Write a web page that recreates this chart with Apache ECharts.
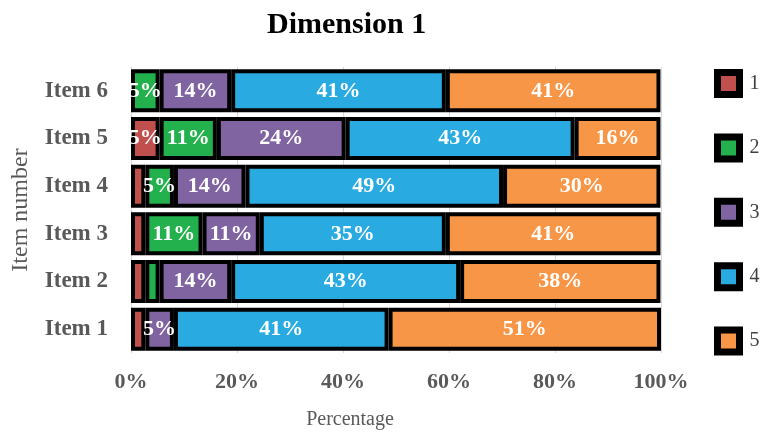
<!DOCTYPE html>
<html>
<head>
<meta charset="utf-8">
<script src="https://cdn.jsdelivr.net/npm/echarts@6/dist/echarts.min.js"></script>
<style>
  html, body { margin: 0; padding: 0; background: #fff; }
  #chart { width: 766px; height: 435px; }
</style>
</head>
<body>
<div id="chart"></div>
<script>
// Share of responses (%) per rating level, for each item of Dimension 1
const categories = ['Item 1', 'Item 2', 'Item 3', 'Item 4', 'Item 5', 'Item 6'];
const level1 = [2.7, 2.7, 2.7, 2.7, 5.4, 0];
const level2 = [0, 2.7, 10.8, 5.4, 10.8, 5.4];
const level3 = [5.4, 13.5, 10.8, 13.5, 24.3, 13.5];
const level4 = [40.5, 43.2, 35.1, 48.6, 43.2, 40.5];
const level5 = [51.4, 37.8, 40.5, 29.7, 16.2, 40.5];
const levelNames = ['1', '2', '3', '4', '5'];
const xTicks = [0, 20, 40, 60, 80, 100];

const colors = ['#c0504d', '#22b14c', '#8064a2', '#29abe2', '#f79646'];
const serif = '"Liberation Serif", "Times New Roman", serif';
const grayText = '#595959';

const levels = [level1, level2, level3, level4, level5];

// empty segments are skipped so they leave no border stub
const series = levels.map((vals, i) => ({
  name: levelNames[i],
  type: 'bar',
  stack: 'total',
  barWidth: 43,
  data: vals.map(v => (v === 0 ? '-' : v)),
  itemStyle: {
    color: colors[i],
    borderColor: '#000',
    borderWidth: 4
  },
  label: {
    show: true,
    position: 'inside',
    color: '#fff',
    fontFamily: serif,
    fontWeight: 'bold',
    fontSize: 22,
    formatter: p => (p.value >= 5 ? Math.round(p.value) + '%' : '')
  },
  emphasis: { disabled: true }
}));

const chart = echarts.init(document.getElementById('chart'), null, { renderer: 'canvas' });
chart.setOption({
  animation: false,
  backgroundColor: '#fff',
  title: {
    text: 'Dimension 1',
    left: 267,
    top: 10,
    padding: 0,
    textStyle: { fontFamily: serif, fontWeight: 'bold', fontSize: 30, color: '#000' }
  },
  legend: {
    orient: 'vertical',
    left: 714,
    top: 69,
    padding: 0,
    itemWidth: 22,
    itemHeight: 22,
    itemGap: 35.4,
    icon: 'rect',
    data: levelNames,
    itemStyle: { borderColor: '#000', borderWidth: 7 },
    textStyle: { fontFamily: serif, fontSize: 20, color: '#404040', padding: [0, 0, 0, 5] }
  },
  grid: { left: 131, right: 105, top: 67, bottom: 78, containLabel: false },
  xAxis: {
    type: 'value',
    min: 0,
    max: 100,
    interval: 20,
    name: 'Percentage',
    nameLocation: 'middle',
    nameGap: 57,
    nameTextStyle: { fontFamily: serif, fontSize: 20, color: grayText, padding: [0, 92, 0, 0] },
    axisLine: { show: false },
    axisTick: { show: false },
    splitLine: { show: true, lineStyle: { color: '#d9d9d9', width: 1 } },
    axisLabel: {
      margin: 18,
      fontFamily: serif,
      fontWeight: 'bold',
      fontSize: 22,
      color: grayText,
      formatter: v => (xTicks.includes(v) ? v + '%' : '')
    }
  },
  yAxis: {
    type: 'category',
    data: categories,
    name: 'Item number',
    nameLocation: 'middle',
    nameGap: 98,
    nameRotate: 90,
    nameTextStyle: { fontFamily: serif, fontSize: 24, color: grayText },
    axisLine: { show: true, lineStyle: { color: '#d9d9d9', width: 1 } },
    axisTick: { show: false },
    axisLabel: {
      margin: 23,
      fontFamily: serif,
      fontWeight: 'bold',
      fontSize: 23,
      color: grayText
    }
  },
  series: series
});
</script>
</body>
</html>
